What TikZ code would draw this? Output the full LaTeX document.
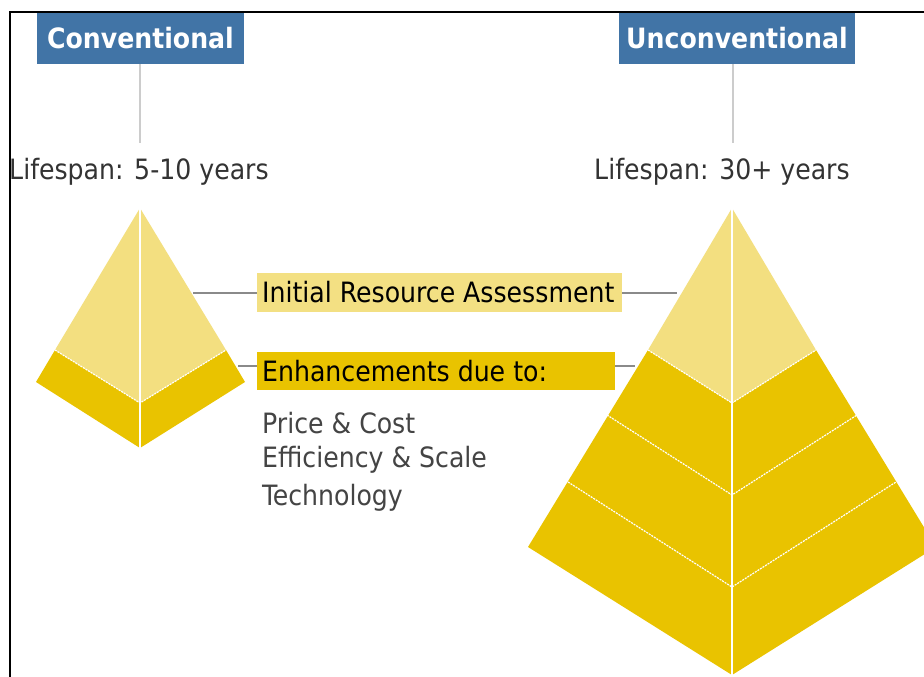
\documentclass[tikz,border=0pt]{standalone}
\usepackage{fontspec}
\setmainfont{DejaVu Sans Condensed}
\begin{document}
\begin{tikzpicture}[x=1pt,y=-1pt,
  hdr/.style={fill=hdrblue,text=white,font=\bfseries\fontsize{28}{31}\selectfont,minimum width=207pt,minimum height=51pt,inner sep=0pt},
  life/.style={text=txtgray,font=\fontsize{28}{31}\selectfont,inner sep=0pt},
  lbl/.style={font=\fontsize{28}{31}\selectfont,text=black,inner sep=0pt,anchor=west},
  item/.style={font=\fontsize{28}{31}\selectfont,text=itemgray,inner sep=0pt,anchor=west},
  stem/.style={draw=stemgray,line width=1.5pt},
  conn/.style={draw=conngray,line width=1.5pt},
  light/.style={fill=lighty},
  dark/.style={fill=darky},
  ridge/.style={draw=white,line width=1.2pt},
  seam/.style={draw=white,line width=1.2pt,dash pattern=on 2pt off 1pt}
]
\definecolor{hdrblue}{HTML}{4174A6}
\definecolor{txtgray}{HTML}{333333}
\definecolor{itemgray}{HTML}{444444}
\definecolor{stemgray}{HTML}{CCCCCC}
\definecolor{conngray}{HTML}{8A8A8A}
\definecolor{lighty}{HTML}{F3DF80}
\definecolor{darky}{HTML}{E9C300}
\definecolor{labl}{HTML}{F3E083}
\useasboundingbox (0,0) rectangle (924,677);
\fill[white] (0,0) rectangle (924,677);
% frame
\draw[line width=2.5pt,black] (10,677) -- (10,12) -- (924,12);
% headers
\node[hdr] (conv) at (140.5,38.5) {Conventional};
\node[hdr,minimum width=236pt] (unconv) at (737,38.5) {Unconventional};
\node[life] (life1) at (139,172) {Lifespan: 5-10 years};
\node[life] (life2) at (722,172) {Lifespan: 30+ years};
\coordinate (s1) at (140,143);
\coordinate (s2) at (733,143);
\draw[stem] (conv.south -| s1) -- (s1);
\draw[stem] (unconv.south -| s2) -- (s2);
% left pyramid
\coordinate (la) at (140,208);
\coordinate (ll) at (36,382);
\coordinate (lr) at (245,382);
\coordinate (lb) at (140,448);
\coordinate (ll1) at (55,350);
\coordinate (lc1) at (140,403);
\coordinate (lr1) at (226,350);
\fill[dark] (ll1) -- (ll) -- (lb) -- (lr) -- (lr1) -- (lc1) -- cycle;
\fill[light] (la) -- (ll1) -- (lc1) -- (lr1) -- cycle;
\draw[seam] (ll1) -- (lc1) -- (lr1);
\draw[ridge] (la) -- (lb);
% right pyramid
\coordinate (ra) at (732,208);
\coordinate (rl) at (528,547);
\coordinate (rr) at (936,547);
\coordinate (rb) at (732,675);
\coordinate (rl1) at (648,350);
\coordinate (rc1) at (732,403);
\coordinate (rr1) at (816,350);
\coordinate (rl2) at (607,415);
\coordinate (rc2) at (732,495);
\coordinate (rr2) at (857,415);
\coordinate (rl3) at (568,482);
\coordinate (rc3) at (732,587);
\coordinate (rr3) at (896,482);
\fill[dark] (rl1) -- (rl) -- (rb) -- (rr) -- (rr1) -- (rc1) -- cycle;
\fill[light] (ra) -- (rl1) -- (rc1) -- (rr1) -- cycle;
\draw[seam] (rl1) -- (rc1) -- (rr1);
\draw[seam] (rl2) -- (rc2) -- (rr2);
\draw[seam] (rl3) -- (rc3) -- (rr3);
\draw[ridge] (ra) -- (rb);
% labels
\fill[labl] (257,273) rectangle (622,312);
\node[lbl] (init) at (262,292.5) {Initial Resource Assessment};
\fill[darky] (257,352) rectangle (615,390);
\node[lbl] (enh) at (262,371) {Enhancements due to:};
\coordinate (i1) at (193,293);
\coordinate (i2) at (257,293);
\coordinate (i3) at (622,293);
\coordinate (i4) at (677,293);
\coordinate (e1) at (238,366);
\coordinate (e2) at (257,366);
\coordinate (e3) at (615,366);
\coordinate (e4) at (635,366);
\draw[conn] (i1) -- (i2);
\draw[conn] (i3) -- (i4);
\draw[conn] (e1) -- (e2);
\draw[conn] (e3) -- (e4);
\node[item] (t1) at (262,423) {Price \& Cost};
\node[item] (t2) at (262,460) {Efficiency \& Scale};
\node[item] (t3) at (262,498) {Technology};
\end{tikzpicture}
\end{document}
